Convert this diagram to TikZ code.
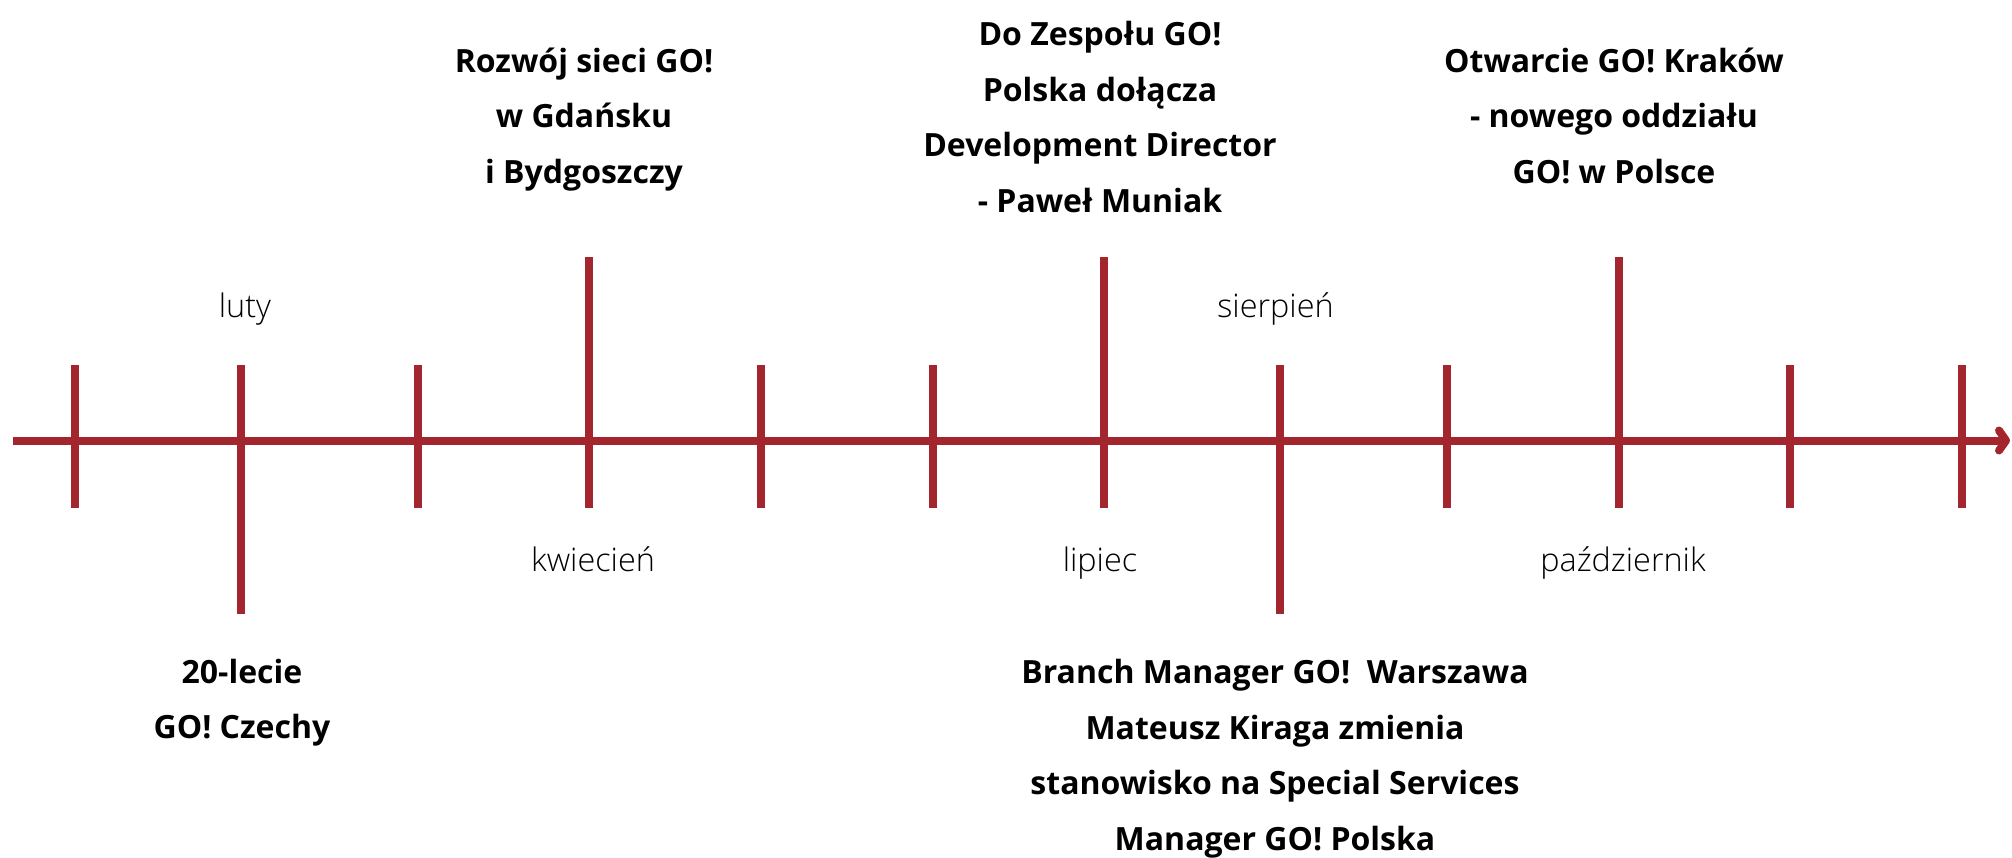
\documentclass[tikz,border=0pt]{standalone}
\usepackage{fontspec}
\setmainfont{Open Sans}
\newfontfamily\monthfont{Open Sans Light}
\usetikzlibrary{arrows.meta}
\definecolor{timelinered}{RGB}{163,38,46}
\begin{document}
\begin{tikzpicture}[x=1pt,y=-1pt,
  axis/.style={draw=timelinered,line width=8pt,-{Straight Barb[length=7pt,width=20pt,round]}},
  tickmark/.style={draw=timelinered,line width=8pt},
  month/.style={anchor=base,inner sep=0pt,font=\monthfont\fontsize{32.4}{38}\selectfont},
  event/.style={anchor=base,inner sep=0pt,align=center,font=\bfseries\fontsize{32}{55.5}\selectfont}]
  \useasboundingbox (0,0) rectangle (2012,857);

  \coordinate (axisStart) at (13,440.5);
  \coordinate (axisEnd) at (2010,440.5);
  \path[axis] (axisStart) -- (axisEnd);

  \path[tickmark] (75,365) -- (75,508);
  \path[tickmark] (241,365) -- (241,614);
  \path[tickmark] (418,365) -- (418,508);
  \path[tickmark] (588.5,257) -- (588.5,508);
  \path[tickmark] (760.5,365) -- (760.5,508);
  \path[tickmark] (932.5,365) -- (932.5,508);
  \path[tickmark] (1103.5,257) -- (1103.5,508);
  \path[tickmark] (1280,365) -- (1280,614);
  \path[tickmark] (1447,365) -- (1447,508);
  \path[tickmark] (1619,257) -- (1619,508);
  \path[tickmark] (1790,365) -- (1790,508);
  \path[tickmark] (1962,365) -- (1962,508);

  \node[month] (luty) at (245,317) {luty};
  \node[month] (kwiecien) at (593,571) {kwiecień};
  \node[month] (lipiec) at (1100,571) {lipiec};
  \node[month] (sierpien) at (1275.5,317) {sierpień};
  \node[month] (pazdziernik) at (1623,571) {październik};

  % last baselines of the event texts
  \node[event] (rozwojSieci) at (584,183.3) {Rozwój sieci GO!\\w Gdańsku\\i Bydgoszczy};
  \node[event] (doZespolu) at (1100,212) {Do Zespołu GO!\\Polska dołącza\\Development Director\\- Paweł Muniak};
  \node[event] (otwarcieKrakow) at (1614,183) {Otwarcie GO! Kraków\\- nowego oddziału\\GO! w Polsce};
  \node[event] (dwudziestolecie) at (242,738.7) {20-lecie\\GO! Czechy};
  \node[event] (branchManager) at (1275,850) {Branch Manager GO!\ \ Warszawa\\Mateusz Kiraga zmienia\\stanowisko na Special Services\\Manager GO! Polska};
\end{tikzpicture}
\end{document}
